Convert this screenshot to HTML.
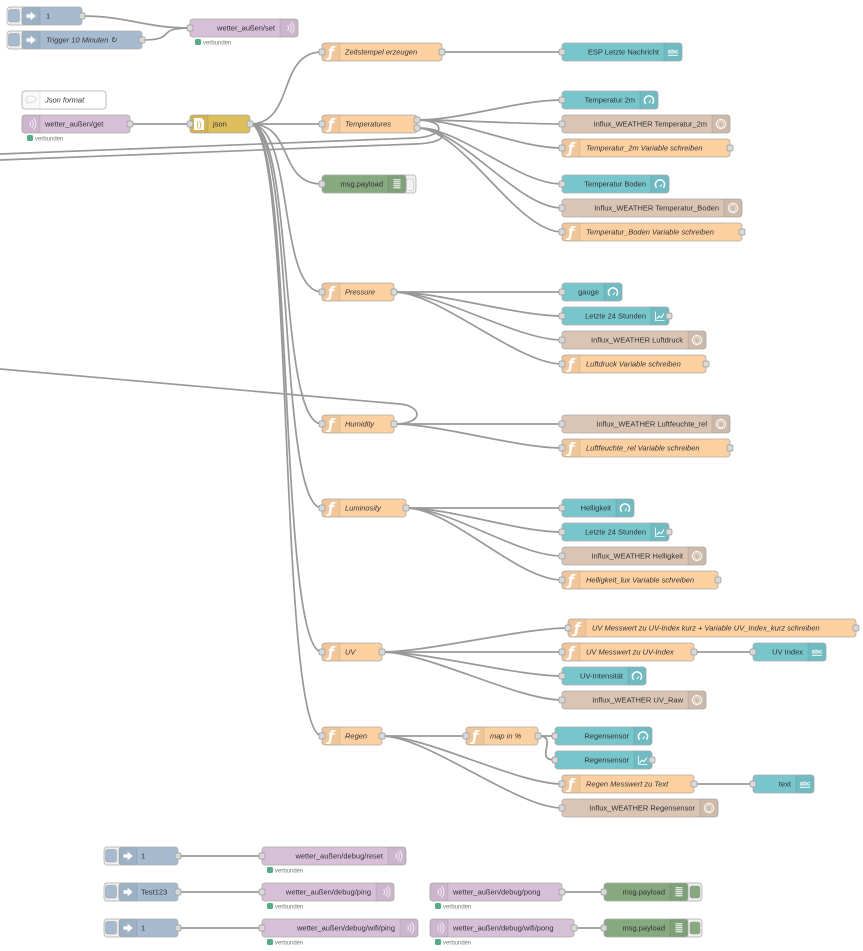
<!DOCTYPE html>
<html><head><meta charset="utf-8"><style>
html,body{margin:0;padding:0;background:#fff;}
svg{display:block}
.n{stroke:#aaa;stroke-width:.8}
.inj{fill:#a6bbcf}.mq{fill:#d8bfd8}.fn{fill:#fdd0a2}.js{fill:#debd5c}.ui{fill:#77c6cc}.ix{fill:#dac4b4}.dbg{fill:#87a980}.cm{fill:#fff}
.sh{fill:#000;fill-opacity:.05}
.sp{stroke:#000;stroke-opacity:.1;stroke-width:.8}
.p{fill:#d9d9d9;stroke:#999;stroke-width:.7}
.w{fill:none;stroke:#999;stroke-width:1.7}
text{font-family:"Liberation Sans",Arial,sans-serif;font-size:7.5px;fill:#333}
.it{font-style:italic}
.fi{font-family:"DejaVu Sans","Liberation Sans",sans-serif;font-style:italic;font-weight:bold;font-size:14px;fill:#fff;text-anchor:middle}
.st{font-size:6px;fill:#777}
.abc{font-size:6.2px;font-weight:bold;fill:#fff;text-anchor:middle}
.e{text-anchor:end}
</style></head><body>
<svg width="863" height="951" viewBox="0 0 863 951" xmlns="http://www.w3.org/2000/svg">
<defs>
<g id="inj"><polygon points="4.5,7.3 8.6,7.3 8.6,4.6 13.6,9 8.6,13.4 8.6,10.7 4.5,10.7" fill="#fff"/></g>
<g id="mq" fill="none" stroke="#fff" stroke-width="1" opacity=".75"><path d="M7.5 6.5a3.5 3.5 0 0 1 0 5"/><path d="M9.5 5a5.5 5.5 0 0 1 0 8"/><path d="M11.5 3.5a7.5 7.5 0 0 1 0 11"/></g>
<g id="gauge" fill="none" stroke="#fff"><path d="M5.6 12.6A4.6 4.6 0 1 1 12.4 12.6" stroke-width="1.5"/><line x1="9" y1="12" x2="10.6" y2="9.4" stroke-width="1"/></g>
<g id="chart" fill="none" stroke="#fff"><path d="M4.5 4.5V13.5H13.5" stroke-width=".8"/><polyline points="5.6,12 8,9.2 10,10.6 13,6.6" stroke-width="1"/></g>
<g id="ixi" fill="none" stroke="#fff" opacity=".85"><circle cx="9" cy="9" r="4.6" stroke-width="1.2"/><path d="M9 5.6L12 8.4 10.7 12.2 7.3 12.2 6 8.4Z" stroke-width=".6"/></g>
<g id="dbgi" fill="#fff" opacity=".9"><rect x="5.5" y="4.2" width="7" height="1.1"/><rect x="5.5" y="6.2" width="7" height="1.1"/><rect x="5.5" y="8.2" width="7" height="1.1"/><rect x="5.5" y="10.2" width="7" height="1.1"/><rect x="5.5" y="12.2" width="7" height="1.1"/></g>
<g id="cmi" fill="none" stroke="#ddd" stroke-width="1"><path d="M9 5c3 0 5 1.4 5 3.2s-2 3.2-5 3.2c-.6 0-1.2 0-1.7-.2L5 12.5l.8-2C4.7 9.9 4 9.1 4 8.2 4 6.4 6 5 9 5z"/></g>
<g id="pt"><rect class="p" width="6" height="6" rx="1.5"/></g>
</defs>

<!-- wires -->
<g class="w">
<path d="M82 16C127 16 145 28 190 28"/>
<path d="M142 40C179 40 153 28 190 28"/>
<path d="M130 124L190 124"/>
<path d="M250 124C295 124 277 52 322 52"/>
<path d="M250 124L322 124"/>
<path d="M250 124C295 124 277 184 322 184"/>
<path d="M250 124C295 124 277 292 322 292"/>
<path d="M250 124C295 124 277 424 322 424"/>
<path d="M250 124C295 124 277 508 322 508"/>
<path d="M250 124C295 124 277 652 322 652"/>
<path d="M250 124C295 124 277 736 322 736"/>
<path d="M442 52L562 52"/>
<path d="M417 120C462 120 517 100 562 100"/>
<path d="M417 120C462 120 517 124 562 124"/>
<path d="M417 120C462 120 517 148 562 148"/>
<path d="M417 128C462 128 517 184 562 184"/>
<path d="M417 128C462 128 517 208 562 208"/>
<path d="M417 128C462 128 517 232 562 232"/>
<path d="M417 120C445 120 448 136 415 138L0 154"/>
<path d="M417 128C450 128 452 143 415 144L0 160"/>
<path d="M394 292L562 292"/>
<path d="M394 292C439 292 517 316 562 316"/>
<path d="M394 292C439 292 517 340 562 340"/>
<path d="M394 292C439 292 517 364 562 364"/>
<path d="M394 424L562 424"/>
<path d="M394 424C439 424 517 448 562 448"/>
<path d="M394 424C425 424 422 406 400 404L0 369"/>
<path d="M406 508L562 508"/>
<path d="M406 508C451 508 517 532 562 532"/>
<path d="M406 508C451 508 517 556 562 556"/>
<path d="M406 508C451 508 517 580 562 580"/>
<path d="M382 652C427 652 523 628 568 628"/>
<path d="M382 652L562 652"/>
<path d="M382 652C427 652 517 676 562 676"/>
<path d="M382 652C427 652 517 700 562 700"/>
<path d="M694 652L753 652"/>
<path d="M382 736L466 736"/>
<path d="M382 736C427 736 517 784 562 784"/>
<path d="M382 736C427 736 517 808 562 808"/>
<path d="M538 736C551 736 542 736 555 736"/>
<path d="M538 736C560 736 533 760 555 760"/>
<path d="M694 784L753 784"/>
<path d="M178 856L262 856"/>
<path d="M178 892L262 892"/>
<path d="M562 892L604 892"/>
<path d="M178 928L262 928"/>
<path d="M574 928L604 928"/>
</g>

<!-- inject buttons -->
<rect x="7" y="7" width="20" height="18" rx="3" fill="#eee" stroke="#aaa" stroke-width=".7"/><rect x="8.5" y="9.5" width="11" height="12.5" rx="2" fill="#a6bbcf" stroke="#999" stroke-width=".5"/>
<rect x="7" y="31" width="20" height="18" rx="3" fill="#eee" stroke="#aaa" stroke-width=".7"/><rect x="8.5" y="33.5" width="11" height="12.5" rx="2" fill="#a6bbcf" stroke="#999" stroke-width=".5"/>
<rect x="104" y="847" width="20" height="18" rx="3" fill="#eee" stroke="#aaa" stroke-width=".7"/><rect x="105.5" y="849.5" width="11" height="12.5" rx="2" fill="#a6bbcf" stroke="#999" stroke-width=".5"/>
<rect x="104" y="883" width="20" height="18" rx="3" fill="#eee" stroke="#aaa" stroke-width=".7"/><rect x="105.5" y="885.5" width="11" height="12.5" rx="2" fill="#a6bbcf" stroke="#999" stroke-width=".5"/>
<rect x="104" y="919" width="20" height="18" rx="3" fill="#eee" stroke="#aaa" stroke-width=".7"/><rect x="105.5" y="921.5" width="11" height="12.5" rx="2" fill="#a6bbcf" stroke="#999" stroke-width=".5"/>
<!-- debug buttons -->
<rect x="397" y="175" width="19" height="18" rx="3" fill="#eee" stroke="#aaa" stroke-width=".7"/><rect x="406.5" y="179" width="7" height="11.5" rx="2" fill="#f4f4f4" stroke="#bbb" stroke-width=".5"/>
<rect x="683" y="883" width="19" height="18" rx="3" fill="#eee" stroke="#aaa" stroke-width=".7"/><rect x="690" y="886" width="10" height="12" rx="2" fill="#87a980" stroke="#999" stroke-width=".5"/>
<rect x="683" y="919" width="19" height="18" rx="3" fill="#eee" stroke="#aaa" stroke-width=".7"/><rect x="690" y="922" width="10" height="12" rx="2" fill="#87a980" stroke="#999" stroke-width=".5"/>

<!-- nodes -->
<g transform="translate(22,7)"><rect class="n inj" width="60" height="18" rx="3"/><path class="sh" d="M0 3a3 3 0 0 1 3-3h15v18h-15a3 3 0 0 1-3-3z"/><line class="sp" x1="18" y1="0" x2="18" y2="18"/><use href="#inj"/><text x="24" y="11.6">1</text><use href="#pt" x="57" y="6"/></g>
<g transform="translate(22,31)"><rect class="n inj" width="120" height="18" rx="3"/><path class="sh" d="M0 3a3 3 0 0 1 3-3h15v18h-15a3 3 0 0 1-3-3z"/><line class="sp" x1="18" y1="0" x2="18" y2="18"/><use href="#inj"/><text class="it" x="24" y="11.6">Trigger 10 Minuten ↻</text><use href="#pt" x="117" y="6"/></g>
<g transform="translate(190,19)"><rect class="n mq" width="108" height="18" rx="3"/><path class="sh" d="M90 0h15a3 3 0 0 1 3 3v12a3 3 0 0 1-3 3h-15z"/><line class="sp" x1="90" y1="0" x2="90" y2="18"/><use href="#mq" x="90"/><text class="e" x="85" y="11.6">wetter_außen/set</text><use href="#pt" x="-3" y="6"/></g>
<rect x="195" y="39" width="6" height="6" rx="1.5" fill="#5a8"/><text class="st" x="203" y="44.5">verbunden</text>

<g transform="translate(22,91)"><rect class="n cm" width="84" height="18" rx="3"/><path class="sh" d="M0 3a3 3 0 0 1 3-3h15v18h-15a3 3 0 0 1-3-3z" style="fill-opacity:.02"/><line class="sp" x1="18" y1="0" x2="18" y2="18"/><use href="#cmi"/><text class="it" x="23" y="11.6">Json format</text></g>

<g transform="translate(22,115)"><rect class="n mq" width="108" height="18" rx="3"/><path class="sh" d="M0 3a3 3 0 0 1 3-3h15v18h-15a3 3 0 0 1-3-3z"/><line class="sp" x1="18" y1="0" x2="18" y2="18"/><use href="#mq"/><text x="23" y="11.6">wetter_außen/get</text><use href="#pt" x="105" y="6"/></g>
<rect x="27" y="135" width="6" height="6" rx="1.5" fill="#5a8"/><text class="st" x="35" y="140.5">verbunden</text>

<g transform="translate(190,115)"><rect class="n js" width="60" height="18" rx="3"/><path class="sh" d="M0 3a3 3 0 0 1 3-3h15v18h-15a3 3 0 0 1-3-3z"/><line class="sp" x1="18" y1="0" x2="18" y2="18"/><path d="M4 3h7.5l2.5 2.5V15H4z" fill="#fff"/><text x="9" y="11.8" style="font-size:7px;font-weight:bold;fill:#debd5c;text-anchor:middle">{}</text><text x="23" y="11.6">json</text><use href="#pt" x="-3" y="6"/><use href="#pt" x="57" y="6"/></g>

<g transform="translate(322,43)"><rect class="n fn" width="120" height="18" rx="3"/><path class="sh" d="M0 3a3 3 0 0 1 3-3h15v18h-15a3 3 0 0 1-3-3z"/><line class="sp" x1="18" y1="0" x2="18" y2="18"/><text class="fi" x="9" y="14">ƒ</text><text class="it" x="23" y="11.6">Zeitstempel erzeugen</text><use href="#pt" x="-3" y="6"/><use href="#pt" x="117" y="6"/></g>
<g transform="translate(562,43)"><rect class="n ui" width="120" height="18" rx="3"/><path class="sh" d="M102 0h15a3 3 0 0 1 3 3v12a3 3 0 0 1-3 3h-15z"/><line class="sp" x1="102" y1="0" x2="102" y2="18"/><text class="abc" x="111" y="10.5">abc</text><line x1="106" y1="12.3" x2="116" y2="12.3" stroke="#fff" stroke-width=".9"/><text class="e" x="97" y="11.6">ESP Letzte Nachricht</text><use href="#pt" x="-3" y="6"/></g>

<g transform="translate(562,91)"><rect class="n ui" width="96" height="18" rx="3"/><path class="sh" d="M78 0h15a3 3 0 0 1 3 3v12a3 3 0 0 1-3 3h-15z"/><line class="sp" x1="78" y1="0" x2="78" y2="18"/><use href="#gauge" x="78"/><text class="e" x="73" y="11.6">Temperatur 2m</text><use href="#pt" x="-3" y="6"/></g>

<g transform="translate(322,115)"><rect class="n fn" width="95" height="18" rx="3"/><path class="sh" d="M0 3a3 3 0 0 1 3-3h15v18h-15a3 3 0 0 1-3-3z"/><line class="sp" x1="18" y1="0" x2="18" y2="18"/><text class="fi" x="9" y="14">ƒ</text><text class="it" x="23" y="11.6">Temperatures</text><use href="#pt" x="-3" y="6"/><use href="#pt" x="92" y="2"/><use href="#pt" x="92" y="10"/></g>

<g transform="translate(562,115)"><rect class="n ix" width="168" height="18" rx="3"/><path class="sh" d="M150 0h15a3 3 0 0 1 3 3v12a3 3 0 0 1-3 3h-15z"/><line class="sp" x1="150" y1="0" x2="150" y2="18"/><use href="#ixi" x="150"/><text class="e" x="145" y="11.6">Influx_WEATHER Temperatur_2m</text><use href="#pt" x="-3" y="6"/></g>
<g transform="translate(562,139)"><rect class="n fn" width="168" height="18" rx="3"/><path class="sh" d="M0 3a3 3 0 0 1 3-3h15v18h-15a3 3 0 0 1-3-3z"/><line class="sp" x1="18" y1="0" x2="18" y2="18"/><text class="fi" x="9" y="14">ƒ</text><text class="it" x="24" y="11.6">Temperatur_2m Variable schreiben</text><use href="#pt" x="-3" y="6"/><use href="#pt" x="165" y="6"/></g>

<g transform="translate(322,175)"><rect class="n dbg" width="84" height="18" rx="3"/><path class="sh" d="M66 0h15a3 3 0 0 1 3 3v12a3 3 0 0 1-3 3h-15z"/><line class="sp" x1="66" y1="0" x2="66" y2="18"/><use href="#dbgi" x="66"/><text class="e" x="61" y="11.6">msg.payload</text><use href="#pt" x="-3" y="6"/></g>

<g transform="translate(562,175)"><rect class="n ui" width="107" height="18" rx="3"/><path class="sh" d="M89 0h15a3 3 0 0 1 3 3v12a3 3 0 0 1-3 3h-15z"/><line class="sp" x1="89" y1="0" x2="89" y2="18"/><use href="#gauge" x="89"/><text class="e" x="84" y="11.6">Temperatur Boden</text><use href="#pt" x="-3" y="6"/></g>
<g transform="translate(562,199)"><rect class="n ix" width="180" height="18" rx="3"/><path class="sh" d="M162 0h15a3 3 0 0 1 3 3v12a3 3 0 0 1-3 3h-15z"/><line class="sp" x1="162" y1="0" x2="162" y2="18"/><use href="#ixi" x="162"/><text class="e" x="157" y="11.6">Influx_WEATHER Temperatur_Boden</text><use href="#pt" x="-3" y="6"/></g>
<g transform="translate(562,223)"><rect class="n fn" width="180" height="18" rx="3"/><path class="sh" d="M0 3a3 3 0 0 1 3-3h15v18h-15a3 3 0 0 1-3-3z"/><line class="sp" x1="18" y1="0" x2="18" y2="18"/><text class="fi" x="9" y="14">ƒ</text><text class="it" x="24" y="11.6">Temperatur_Boden Variable schreiben</text><use href="#pt" x="-3" y="6"/><use href="#pt" x="177" y="6"/></g>

<g transform="translate(322,283)"><rect class="n fn" width="72" height="18" rx="3"/><path class="sh" d="M0 3a3 3 0 0 1 3-3h15v18h-15a3 3 0 0 1-3-3z"/><line class="sp" x1="18" y1="0" x2="18" y2="18"/><text class="fi" x="9" y="14">ƒ</text><text class="it" x="23" y="11.6">Pressure</text><use href="#pt" x="-3" y="6"/><use href="#pt" x="69" y="6"/></g>
<g transform="translate(562,283)"><rect class="n ui" width="60" height="18" rx="3"/><path class="sh" d="M42 0h15a3 3 0 0 1 3 3v12a3 3 0 0 1-3 3h-15z"/><line class="sp" x1="42" y1="0" x2="42" y2="18"/><use href="#gauge" x="42"/><text class="e" x="37" y="11.6">gauge</text><use href="#pt" x="-3" y="6"/></g>
<g transform="translate(562,307)"><rect class="n ui" width="107" height="18" rx="3"/><path class="sh" d="M89 0h15a3 3 0 0 1 3 3v12a3 3 0 0 1-3 3h-15z"/><line class="sp" x1="89" y1="0" x2="89" y2="18"/><use href="#chart" x="89"/><text class="e" x="84" y="11.6">Letzte 24 Stunden</text><use href="#pt" x="-3" y="6"/><use href="#pt" x="104" y="6"/></g>
<g transform="translate(562,331)"><rect class="n ix" width="144" height="18" rx="3"/><path class="sh" d="M126 0h15a3 3 0 0 1 3 3v12a3 3 0 0 1-3 3h-15z"/><line class="sp" x1="126" y1="0" x2="126" y2="18"/><use href="#ixi" x="126"/><text class="e" x="121" y="11.6">Influx_WEATHER Luftdruck</text><use href="#pt" x="-3" y="6"/></g>
<g transform="translate(562,355)"><rect class="n fn" width="144" height="18" rx="3"/><path class="sh" d="M0 3a3 3 0 0 1 3-3h15v18h-15a3 3 0 0 1-3-3z"/><line class="sp" x1="18" y1="0" x2="18" y2="18"/><text class="fi" x="9" y="14">ƒ</text><text class="it" x="24" y="11.6">Luftdruck Variable schreiben</text><use href="#pt" x="-3" y="6"/><use href="#pt" x="141" y="6"/></g>

<g transform="translate(322,415)"><rect class="n fn" width="72" height="18" rx="3"/><path class="sh" d="M0 3a3 3 0 0 1 3-3h15v18h-15a3 3 0 0 1-3-3z"/><line class="sp" x1="18" y1="0" x2="18" y2="18"/><text class="fi" x="9" y="14">ƒ</text><text class="it" x="23" y="11.6">Humidity</text><use href="#pt" x="-3" y="6"/><use href="#pt" x="69" y="6"/></g>
<g transform="translate(562,415)"><rect class="n ix" width="168" height="18" rx="3"/><path class="sh" d="M150 0h15a3 3 0 0 1 3 3v12a3 3 0 0 1-3 3h-15z"/><line class="sp" x1="150" y1="0" x2="150" y2="18"/><use href="#ixi" x="150"/><text class="e" x="145" y="11.6">Influx_WEATHER Luftfeuchte_rel</text><use href="#pt" x="-3" y="6"/></g>
<g transform="translate(562,439)"><rect class="n fn" width="168" height="18" rx="3"/><path class="sh" d="M0 3a3 3 0 0 1 3-3h15v18h-15a3 3 0 0 1-3-3z"/><line class="sp" x1="18" y1="0" x2="18" y2="18"/><text class="fi" x="9" y="14">ƒ</text><text class="it" x="24" y="11.6">Luftfeuchte_rel Variable schreiben</text><use href="#pt" x="-3" y="6"/><use href="#pt" x="165" y="6"/></g>

<g transform="translate(322,499)"><rect class="n fn" width="84" height="18" rx="3"/><path class="sh" d="M0 3a3 3 0 0 1 3-3h15v18h-15a3 3 0 0 1-3-3z"/><line class="sp" x1="18" y1="0" x2="18" y2="18"/><text class="fi" x="9" y="14">ƒ</text><text class="it" x="23" y="11.6">Luminosity</text><use href="#pt" x="-3" y="6"/><use href="#pt" x="81" y="6"/></g>
<g transform="translate(562,499)"><rect class="n ui" width="72" height="18" rx="3"/><path class="sh" d="M54 0h15a3 3 0 0 1 3 3v12a3 3 0 0 1-3 3h-15z"/><line class="sp" x1="54" y1="0" x2="54" y2="18"/><use href="#gauge" x="54"/><text class="e" x="49" y="11.6">Helligkeit</text><use href="#pt" x="-3" y="6"/></g>
<g transform="translate(562,523)"><rect class="n ui" width="107" height="18" rx="3"/><path class="sh" d="M89 0h15a3 3 0 0 1 3 3v12a3 3 0 0 1-3 3h-15z"/><line class="sp" x1="89" y1="0" x2="89" y2="18"/><use href="#chart" x="89"/><text class="e" x="84" y="11.6">Letzte 24 Stunden</text><use href="#pt" x="-3" y="6"/><use href="#pt" x="104" y="6"/></g>
<g transform="translate(562,547)"><rect class="n ix" width="144" height="18" rx="3"/><path class="sh" d="M126 0h15a3 3 0 0 1 3 3v12a3 3 0 0 1-3 3h-15z"/><line class="sp" x1="126" y1="0" x2="126" y2="18"/><use href="#ixi" x="126"/><text class="e" x="121" y="11.6">Influx_WEATHER Helligkeit</text><use href="#pt" x="-3" y="6"/></g>
<g transform="translate(562,571)"><rect class="n fn" width="156" height="18" rx="3"/><path class="sh" d="M0 3a3 3 0 0 1 3-3h15v18h-15a3 3 0 0 1-3-3z"/><line class="sp" x1="18" y1="0" x2="18" y2="18"/><text class="fi" x="9" y="14">ƒ</text><text class="it" x="24" y="11.6">Helligkeit_lux Variable schreiben</text><use href="#pt" x="-3" y="6"/><use href="#pt" x="153" y="6"/></g>

<g transform="translate(568,619)"><rect class="n fn" width="288" height="18" rx="3"/><path class="sh" d="M0 3a3 3 0 0 1 3-3h15v18h-15a3 3 0 0 1-3-3z"/><line class="sp" x1="18" y1="0" x2="18" y2="18"/><text class="fi" x="9" y="14">ƒ</text><text class="it" x="24" y="11.6">UV Messwert zu UV-Index kurz + Variable UV_Index_kurz schreiben</text><use href="#pt" x="-3" y="6"/><use href="#pt" x="285" y="6"/></g>
<g transform="translate(322,643)"><rect class="n fn" width="60" height="18" rx="3"/><path class="sh" d="M0 3a3 3 0 0 1 3-3h15v18h-15a3 3 0 0 1-3-3z"/><line class="sp" x1="18" y1="0" x2="18" y2="18"/><text class="fi" x="9" y="14">ƒ</text><text class="it" x="23" y="11.6">UV</text><use href="#pt" x="-3" y="6"/><use href="#pt" x="57" y="6"/></g>
<g transform="translate(562,643)"><rect class="n fn" width="132" height="18" rx="3"/><path class="sh" d="M0 3a3 3 0 0 1 3-3h15v18h-15a3 3 0 0 1-3-3z"/><line class="sp" x1="18" y1="0" x2="18" y2="18"/><text class="fi" x="9" y="14">ƒ</text><text class="it" x="24" y="11.6">UV Messwert zu UV-Index</text><use href="#pt" x="-3" y="6"/><use href="#pt" x="129" y="6"/></g>
<g transform="translate(753,643)"><rect class="n ui" width="73" height="18" rx="3"/><path class="sh" d="M55 0h15a3 3 0 0 1 3 3v12a3 3 0 0 1-3 3h-15z"/><line class="sp" x1="55" y1="0" x2="55" y2="18"/><text class="abc" x="64" y="10.5">abc</text><line x1="59" y1="12.3" x2="69" y2="12.3" stroke="#fff" stroke-width=".9"/><text class="e" x="50" y="11.6">UV Index</text><use href="#pt" x="-3" y="6"/></g>
<g transform="translate(562,667)"><rect class="n ui" width="84" height="18" rx="3"/><path class="sh" d="M66 0h15a3 3 0 0 1 3 3v12a3 3 0 0 1-3 3h-15z"/><line class="sp" x1="66" y1="0" x2="66" y2="18"/><use href="#gauge" x="66"/><text class="e" x="61" y="11.6">UV-Intensität</text><use href="#pt" x="-3" y="6"/></g>
<g transform="translate(562,691)"><rect class="n ix" width="144" height="18" rx="3"/><path class="sh" d="M126 0h15a3 3 0 0 1 3 3v12a3 3 0 0 1-3 3h-15z"/><line class="sp" x1="126" y1="0" x2="126" y2="18"/><use href="#ixi" x="126"/><text class="e" x="121" y="11.6">Influx_WEATHER UV_Raw</text><use href="#pt" x="-3" y="6"/></g>

<g transform="translate(322,727)"><rect class="n fn" width="60" height="18" rx="3"/><path class="sh" d="M0 3a3 3 0 0 1 3-3h15v18h-15a3 3 0 0 1-3-3z"/><line class="sp" x1="18" y1="0" x2="18" y2="18"/><text class="fi" x="9" y="14">ƒ</text><text class="it" x="23" y="11.6">Regen</text><use href="#pt" x="-3" y="6"/><use href="#pt" x="57" y="6"/></g>
<g transform="translate(466,727)"><rect class="n fn" width="72" height="18" rx="3"/><path class="sh" d="M0 3a3 3 0 0 1 3-3h15v18h-15a3 3 0 0 1-3-3z"/><line class="sp" x1="18" y1="0" x2="18" y2="18"/><text class="fi" x="9" y="14">ƒ</text><text class="it" x="24" y="11.6">map in %</text><use href="#pt" x="-3" y="6"/><use href="#pt" x="69" y="6"/></g>
<g transform="translate(555,727)"><rect class="n ui" width="97" height="18" rx="3"/><path class="sh" d="M79 0h15a3 3 0 0 1 3 3v12a3 3 0 0 1-3 3h-15z"/><line class="sp" x1="79" y1="0" x2="79" y2="18"/><use href="#gauge" x="79"/><text class="e" x="74" y="11.6">Regensensor</text><use href="#pt" x="-3" y="6"/></g>
<g transform="translate(555,751)"><rect class="n ui" width="97" height="18" rx="3"/><path class="sh" d="M79 0h15a3 3 0 0 1 3 3v12a3 3 0 0 1-3 3h-15z"/><line class="sp" x1="79" y1="0" x2="79" y2="18"/><use href="#chart" x="79"/><text class="e" x="74" y="11.6">Regensensor</text><use href="#pt" x="-3" y="6"/><use href="#pt" x="94" y="6"/></g>
<g transform="translate(562,775)"><rect class="n fn" width="132" height="18" rx="3"/><path class="sh" d="M0 3a3 3 0 0 1 3-3h15v18h-15a3 3 0 0 1-3-3z"/><line class="sp" x1="18" y1="0" x2="18" y2="18"/><text class="fi" x="9" y="14">ƒ</text><text class="it" x="24" y="11.6">Regen Messwert zu Text</text><use href="#pt" x="-3" y="6"/><use href="#pt" x="129" y="6"/></g>
<g transform="translate(753,775)"><rect class="n ui" width="61" height="18" rx="3"/><path class="sh" d="M43 0h15a3 3 0 0 1 3 3v12a3 3 0 0 1-3 3h-15z"/><line class="sp" x1="43" y1="0" x2="43" y2="18"/><text class="abc" x="52" y="10.5">abc</text><line x1="47" y1="12.3" x2="57" y2="12.3" stroke="#fff" stroke-width=".9"/><text class="e" x="38" y="11.6">text</text><use href="#pt" x="-3" y="6"/></g>
<g transform="translate(562,799)"><rect class="n ix" width="156" height="18" rx="3"/><path class="sh" d="M138 0h15a3 3 0 0 1 3 3v12a3 3 0 0 1-3 3h-15z"/><line class="sp" x1="138" y1="0" x2="138" y2="18"/><use href="#ixi" x="138"/><text class="e" x="133" y="11.6">Influx_WEATHER Regensensor</text><use href="#pt" x="-3" y="6"/></g>

<!-- bottom -->
<g transform="translate(119,847)"><rect class="n inj" width="59" height="18" rx="3"/><path class="sh" d="M0 3a3 3 0 0 1 3-3h15v18h-15a3 3 0 0 1-3-3z"/><line class="sp" x1="18" y1="0" x2="18" y2="18"/><use href="#inj"/><text x="22" y="11.6">1</text><use href="#pt" x="56" y="6"/></g>
<g transform="translate(262,847)"><rect class="n mq" width="144" height="18" rx="3"/><path class="sh" d="M126 0h15a3 3 0 0 1 3 3v12a3 3 0 0 1-3 3h-15z"/><line class="sp" x1="126" y1="0" x2="126" y2="18"/><use href="#mq" x="126"/><text class="e" x="121" y="11.6">wetter_außen/debug/reset</text><use href="#pt" x="-3" y="6"/></g>
<rect x="267" y="867" width="6" height="6" rx="1.5" fill="#5a8"/><text class="st" x="275" y="872.5">verbunden</text>

<g transform="translate(119,883)"><rect class="n inj" width="59" height="18" rx="3"/><path class="sh" d="M0 3a3 3 0 0 1 3-3h15v18h-15a3 3 0 0 1-3-3z"/><line class="sp" x1="18" y1="0" x2="18" y2="18"/><use href="#inj"/><text x="22" y="11.6">Test123</text><use href="#pt" x="56" y="6"/></g>
<g transform="translate(262,883)"><rect class="n mq" width="132" height="18" rx="3"/><path class="sh" d="M114 0h15a3 3 0 0 1 3 3v12a3 3 0 0 1-3 3h-15z"/><line class="sp" x1="114" y1="0" x2="114" y2="18"/><use href="#mq" x="114"/><text class="e" x="109" y="11.6">wetter_außen/debug/ping</text><use href="#pt" x="-3" y="6"/></g>
<rect x="267" y="903" width="6" height="6" rx="1.5" fill="#5a8"/><text class="st" x="275" y="908.5">verbunden</text>
<g transform="translate(430,883)"><rect class="n mq" width="132" height="18" rx="3"/><path class="sh" d="M0 3a3 3 0 0 1 3-3h15v18h-15a3 3 0 0 1-3-3z"/><line class="sp" x1="18" y1="0" x2="18" y2="18"/><use href="#mq"/><text x="23" y="11.6">wetter_außen/debug/pong</text><use href="#pt" x="129" y="6"/></g>
<rect x="435" y="903" width="6" height="6" rx="1.5" fill="#5a8"/><text class="st" x="443" y="908.5">verbunden</text>
<g transform="translate(604,883)"><rect class="n dbg" width="84" height="18" rx="3"/><path class="sh" d="M66 0h15a3 3 0 0 1 3 3v12a3 3 0 0 1-3 3h-15z"/><line class="sp" x1="66" y1="0" x2="66" y2="18"/><use href="#dbgi" x="66"/><text class="e" x="61" y="11.6">msg.payload</text><use href="#pt" x="-3" y="6"/></g>

<g transform="translate(119,919)"><rect class="n inj" width="59" height="18" rx="3"/><path class="sh" d="M0 3a3 3 0 0 1 3-3h15v18h-15a3 3 0 0 1-3-3z"/><line class="sp" x1="18" y1="0" x2="18" y2="18"/><use href="#inj"/><text x="22" y="11.6">1</text><use href="#pt" x="56" y="6"/></g>
<g transform="translate(262,919)"><rect class="n mq" width="156" height="18" rx="3"/><path class="sh" d="M138 0h15a3 3 0 0 1 3 3v12a3 3 0 0 1-3 3h-15z"/><line class="sp" x1="138" y1="0" x2="138" y2="18"/><use href="#mq" x="138"/><text class="e" x="133" y="11.6">wetter_außen/debug/wifi/ping</text><use href="#pt" x="-3" y="6"/></g>
<rect x="267" y="939" width="6" height="6" rx="1.5" fill="#5a8"/><text class="st" x="275" y="944.5">verbunden</text>
<g transform="translate(430,919)"><rect class="n mq" width="144" height="18" rx="3"/><path class="sh" d="M0 3a3 3 0 0 1 3-3h15v18h-15a3 3 0 0 1-3-3z"/><line class="sp" x1="18" y1="0" x2="18" y2="18"/><use href="#mq"/><text x="23" y="11.6">wetter_außen/debug/wifi/pong</text><use href="#pt" x="141" y="6"/></g>
<rect x="435" y="939" width="6" height="6" rx="1.5" fill="#5a8"/><text class="st" x="443" y="944.5">verbunden</text>
<g transform="translate(604,919)"><rect class="n dbg" width="84" height="18" rx="3"/><path class="sh" d="M66 0h15a3 3 0 0 1 3 3v12a3 3 0 0 1-3 3h-15z"/><line class="sp" x1="66" y1="0" x2="66" y2="18"/><use href="#dbgi" x="66"/><text class="e" x="61" y="11.6">msg.payload</text><use href="#pt" x="-3" y="6"/></g>
</svg>
</body></html>
